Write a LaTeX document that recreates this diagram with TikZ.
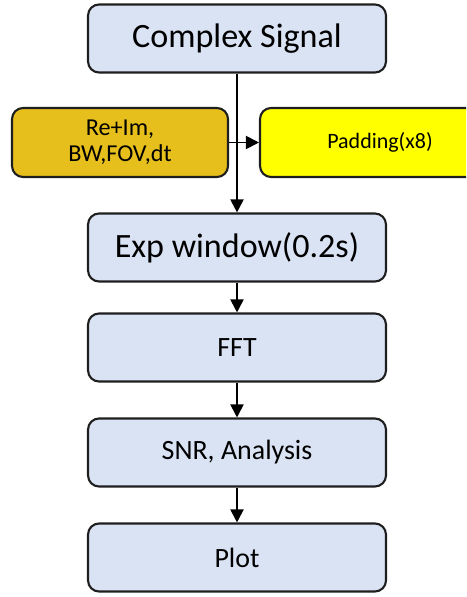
\documentclass[tikz,border=0pt]{standalone}
\usepackage{fontspec}
\setmainfont{Carlito}
\usetikzlibrary{arrows.meta}

\definecolor{stepblue}{HTML}{DAE3F3}
\definecolor{paramgold}{HTML}{E6BF1C}
\definecolor{padyellow}{HTML}{FFFF00}
\definecolor{edgegray}{HTML}{1E1E1E}

\tikzset{
	stage/.style={draw=edgegray, line width=1.2pt, rounded corners=0.22cm, fill=stepblue,
		minimum width=5.96cm, minimum height=1.36cm, inner sep=0pt, align=center},
	param/.style={stage, fill=paramgold, minimum width=4.32cm, minimum height=1.38cm},
	pad/.style={stage, fill=padyellow, minimum width=4.8cm, minimum height=1.38cm},
	flow/.style={line width=1.1pt, -{Triangle[length=0.26cm, width=0.26cm]}}
}

\begin{document}
\begin{tikzpicture}[x=0.02cm, y=-0.02cm]
			%%%%% START %%%%%
			
			\useasboundingbox (0, 0) rectangle (466, 597);
			\clip (0, 0) rectangle (466, 597);
			
			% main chain
			\node[stage, font=\fontsize{19.4}{23}\selectfont] (signal) at (237, 38.5) {Complex Signal};
			\node[stage, font=\fontsize{19.4}{23}\selectfont] (window) at (237, 247.5) {Exp window(0.2s)};
			\node[stage, font=\fontsize{15.9}{19}\selectfont] (fft) at (237, 347.5) {FFT};
			\node[stage, font=\fontsize{15.9}{19}\selectfont] (snr) at (237, 452.5) {SNR, Analysis};
			\node[stage, font=\fontsize{15.9}{19}\selectfont] (plot) at (237, 557.5) {Plot};
			
			% side branch
			\node[param, font=\fontsize{13.8}{14.8}\selectfont] (params) at (120, 142.5) {Re+Im,\\BW,FOV,dt};
			\node[pad, font=\fontsize{12.5}{15}\selectfont] (padding) at (380, 142.5) {Padding(x8)};
			
			\draw[flow] (signal) -- (window);
			\draw[flow] (params) -- (padding);
			\draw[flow] (window) -- (fft);
			\draw[flow] (fft) -- (snr);
			\draw[flow] (snr) -- (plot);
			
			%%%%% END %%%%%
		\end{tikzpicture}
\end{document}
